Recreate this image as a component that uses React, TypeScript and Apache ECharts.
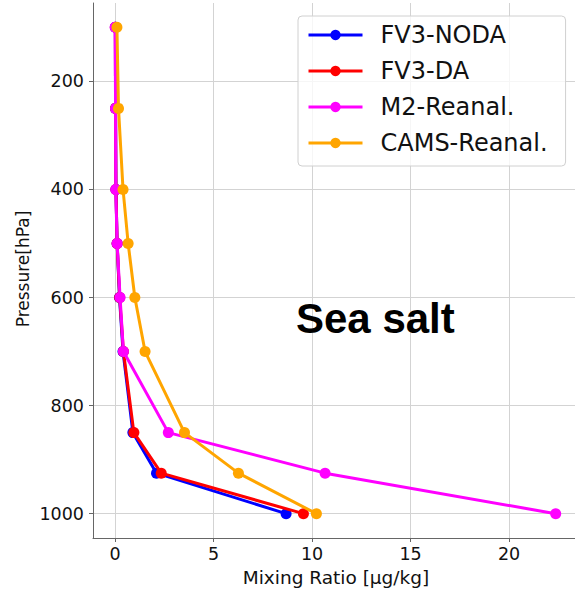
import React, { useEffect, useRef } from "react";
import * as echarts from "echarts";

const pressure = [100, 250, 400, 500, 600, 700, 850, 925, 1000];
const fv3Noda = [0.01, 0.02, 0.04, 0.1, 0.22, 0.4, 0.9, 2.1, 8.68];
const fv3Da = [0.01, 0.02, 0.04, 0.1, 0.23, 0.42, 0.95, 2.34, 9.56];
const m2Reanal = [0.0, 0.02, 0.03, 0.1, 0.25, 0.42, 2.7, 10.66, 22.37];
const camsReanal = [0.09, 0.17, 0.4, 0.66, 1.0, 1.52, 3.52, 6.26, 10.22];

const seriesNames = ["FV3-NODA", "FV3-DA", "M2-Reanal.", "CAMS-Reanal."];
const seriesColors = ["#0000ff", "#ff0000", "#ff00ff", "#ffa500"];
const seriesValues = [fv3Noda, fv3Da, m2Reanal, camsReanal];

const xTicks = [0, 5, 10, 15, 20];
const yTicks = [200, 400, 600, 800, 1000];

const xLabel = "Mixing Ratio [µg/kg]";
const yLabel = "Pressure[hPa]";
const title = "Sea salt";

export default function App() {
  const ref = useRef<HTMLDivElement>(null);
  useEffect(() => {
    if (!ref.current) return;
    const chart = echarts.init(ref.current, null, { renderer: "svg" });
    const tickFont = { fontFamily: "DejaVu Sans", fontSize: 17.5, color: "#111" };
    const plain = (v: number) => String(v);
    chart.setOption({
      animation: false,
      backgroundColor: "#ffffff",
      grid: { left: 93, right: 0, top: 3, bottom: 53, containLabel: false, outerBoundsMode: "none" },
      xAxis: {
        type: "value",
        min: -1.125,
        max: 23.35,
        splitNumber: 5,
        axisLine: { show: true, onZero: false, lineStyle: { color: "#666", width: 1 } },
        axisTick: { show: true, length: 4, customValues: xTicks, lineStyle: { color: "#666" } },
        axisLabel: { ...tickFont, margin: 7, customValues: xTicks, formatter: plain },
        splitLine: { show: true, lineStyle: { color: "#d3d3d3", width: 1 } },
      },
      yAxis: {
        type: "value",
        inverse: true,
        min: 55,
        max: 1045,
        splitNumber: 5,
        axisLine: { show: true, onZero: false, lineStyle: { color: "#666", width: 1 } },
        axisTick: { show: true, length: 4, customValues: yTicks, lineStyle: { color: "#666" } },
        axisLabel: { ...tickFont, margin: 9, customValues: yTicks, formatter: plain },
        splitLine: { show: true, lineStyle: { color: "#d3d3d3", width: 1 } },
      },
      legend: {
        orient: "vertical",
        left: 298,
        top: 16,
        padding: [7, 18, 11, 9],
        itemWidth: 54,
        itemHeight: 13,
        itemGap: 12,
        backgroundColor: "rgba(255,255,255,0.8)",
        borderColor: "#d0d0d0",
        borderWidth: 1,
        borderRadius: 4,
        lineStyle: { width: 3 },
        textStyle: {
          fontFamily: "DejaVu Sans",
          fontSize: 24,
          lineHeight: 24,
          color: "#111",
          padding: [0, 0, 0, 13],
        },
        data: seriesNames,
      },
      series: seriesNames.map((name, i) => ({
        name,
        type: "line",
        data: seriesValues[i].map((v, j) => [v, pressure[j]]),
        symbol: "circle",
        symbolSize: 11,
        showAllSymbol: true,
        lineStyle: { width: 3, color: seriesColors[i] },
        itemStyle: { color: seriesColors[i] },
        z: 2 + i,
      })),
      graphic: [
        {
          type: "text",
          left: 296,
          top: 297,
          style: {
            text: title,
            fontFamily: "Liberation Sans",
            fontWeight: "bold",
            fontSize: 42,
            fill: "#000",
          },
          z: 100,
        },
        {
          type: "text",
          x: 336,
          y: 577,
          style: {
            text: xLabel,
            fontFamily: "DejaVu Sans",
            fontSize: 18.5,
            fill: "#111",
            align: "center",
            verticalAlign: "middle",
          },
        },
        {
          type: "text",
          x: 23,
          y: 269,
          rotation: Math.PI / 2,
          style: {
            text: yLabel,
            fontFamily: "DejaVu Sans",
            fontSize: 17,
            fill: "#111",
            align: "center",
            verticalAlign: "middle",
          },
        },
      ],
    });
    return () => chart.dispose();
  }, []);
  return (
    <div
      ref={ref}
      style={{ position: "absolute", left: 0, top: 0, width: 575, height: 591 }}
    />
  );
}
